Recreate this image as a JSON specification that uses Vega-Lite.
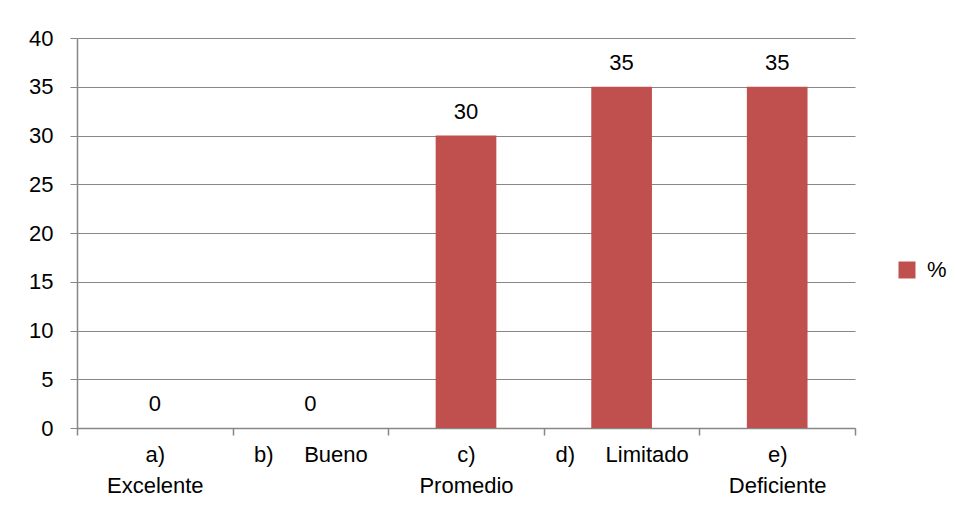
{
  "$schema": "https://vega.github.io/schema/vega-lite/v6.json",
  "width": 778,
  "height": 390,
  "autosize": "none",
  "padding": {"left": 77, "top": 38, "right": 100, "bottom": 91},
  "background": "white",
  "config": {
    "view": {"stroke": null},
    "font": "Liberation Sans",
    "axis": {"labelFont": "Liberation Sans", "labelFontSize": 22, "labelColor": "#000000", "domainColor": "#878787", "tickColor": "#878787", "gridColor": "#878787"}
  },
  "data": {
    "values": [
      {"categoria": "a)|Excelente", "valor": 0, "serie": "%"},
      {"categoria": "b)\u00a0\u00a0\u00a0\u00a0 Bueno", "valor": 0, "serie": "%"},
      {"categoria": "c)|Promedio", "valor": 30, "serie": "%"},
      {"categoria": "d)\u00a0\u00a0\u00a0\u00a0 Limitado", "valor": 35, "serie": "%"},
      {"categoria": "e)|Deficiente", "valor": 35, "serie": "%"}
    ]
  },
  "encoding": {
    "x": {
      "field": "categoria",
      "type": "nominal",
      "sort": null,
      "scale": {"paddingInner": 0, "paddingOuter": 0},
      "axis": {
        "title": null,
        "labelAngle": 0,
        "labelExpr": "isValid(datum.value) ? split(datum.value, '|') : ''",
        "labelLineHeight": 31,
        "labelPadding": 9,
        "tickBand": "extent",
        "tickSize": 7,
        "domainWidth": 1.5,
        "tickWidth": 1.5,
        "labelBaseline": "top"
      }
    },
    "y": {
      "field": "valor",
      "type": "quantitative",
      "scale": {"domain": [0, 40]},
      "axis": {
        "title": null,
        "values": [0, 5, 10, 15, 20, 25, 30, 35, 40],
        "tickSize": 7,
        "labelPadding": 17,
        "grid": true,
        "gridWidth": 1,
        "domainWidth": 1.5
      }
    }
  },
  "layer": [
    {
      "mark": {"type": "bar", "width": {"band": 0.39}},
      "encoding": {
        "color": {
          "field": "serie",
          "type": "nominal",
          "scale": {"range": ["#C0504D"]},
          "legend": {
            "title": null,
            "orient": "none",
            "legendX": 819,
            "legendY": 221,
            "symbolType": "square",
            "symbolSize": 289,
            "symbolStrokeWidth": 0,
            "labelFontSize": 22,
            "labelFont": "Liberation Sans",
            "labelOffset": 9
          }
        }
      }
    },
    {
      "mark": {"type": "text", "dy": -17, "baseline": "alphabetic", "fontSize": 22, "font": "Liberation Sans", "color": "#000000"},
      "encoding": {
        "text": {"field": "valor", "type": "quantitative"}
      }
    }
  ]
}
